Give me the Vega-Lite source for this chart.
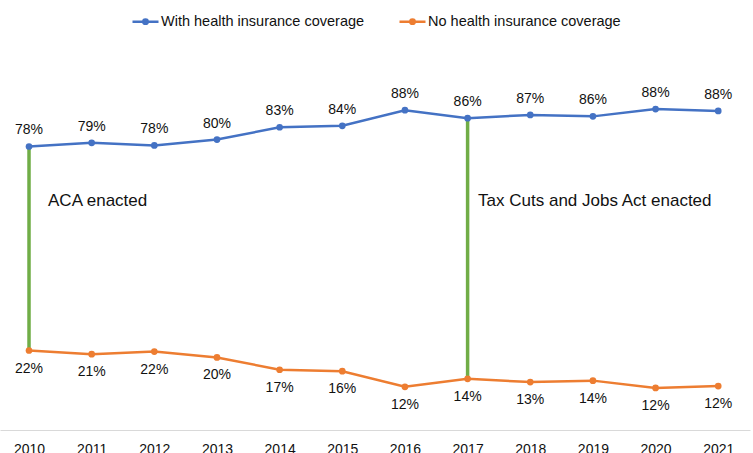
{
  "$schema": "https://vega.github.io/schema/vega-lite/v6.json",
  "width": 750,
  "height": 363,
  "autosize": "none",
  "padding": {"left": 0, "top": 67, "right": 3, "bottom": 23},
  "background": "white",
  "config": {
    "view": {"stroke": null},
    "font": "Liberation Sans",
    "text": {"font": "Liberation Sans", "fontSize": 14, "color": "#111111"}
  },
  "datasets": {
    "coverage": [
      {"year": 2010, "series": "With health insurance coverage", "value": 0.781},
      {"year": 2011, "series": "With health insurance coverage", "value": 0.791},
      {"year": 2012, "series": "With health insurance coverage", "value": 0.784},
      {"year": 2013, "series": "With health insurance coverage", "value": 0.800},
      {"year": 2014, "series": "With health insurance coverage", "value": 0.834},
      {"year": 2015, "series": "With health insurance coverage", "value": 0.838},
      {"year": 2016, "series": "With health insurance coverage", "value": 0.881},
      {"year": 2017, "series": "With health insurance coverage", "value": 0.859},
      {"year": 2018, "series": "With health insurance coverage", "value": 0.868},
      {"year": 2019, "series": "With health insurance coverage", "value": 0.864},
      {"year": 2020, "series": "With health insurance coverage", "value": 0.884},
      {"year": 2021, "series": "With health insurance coverage", "value": 0.879},
      {"year": 2010, "series": "No health insurance coverage", "value": 0.219},
      {"year": 2011, "series": "No health insurance coverage", "value": 0.209},
      {"year": 2012, "series": "No health insurance coverage", "value": 0.216},
      {"year": 2013, "series": "No health insurance coverage", "value": 0.200},
      {"year": 2014, "series": "No health insurance coverage", "value": 0.166},
      {"year": 2015, "series": "No health insurance coverage", "value": 0.162},
      {"year": 2016, "series": "No health insurance coverage", "value": 0.119},
      {"year": 2017, "series": "No health insurance coverage", "value": 0.141},
      {"year": 2018, "series": "No health insurance coverage", "value": 0.132},
      {"year": 2019, "series": "No health insurance coverage", "value": 0.136},
      {"year": 2020, "series": "No health insurance coverage", "value": 0.116},
      {"year": 2021, "series": "No health insurance coverage", "value": 0.121}
    ],
    "events": [
      {"year": 2010, "label": "ACA enacted"},
      {"year": 2017, "label": "Tax Cuts and Jobs Act enacted"}
    ]
  },
  "encoding": {
    "x": {
      "field": "year",
      "type": "quantitative",
      "scale": {"domain": [2009.537, 2021.507], "nice": false, "zero": false},
      "axis": {
        "title": null,
        "values": [2010, 2011, 2012, 2013, 2014, 2015, 2016, 2017, 2018, 2019, 2020, 2021],
        "format": "d",
        "grid": false,
        "ticks": false,
        "domainColor": "#d9d9d9",
        "domainWidth": 1,
        "labelFont": "Liberation Sans",
        "labelFontSize": 14,
        "labelColor": "#111111",
        "labelPadding": 12,
        "labelFlush": false,
        "labelOverlap": false
      }
    }
  },
  "layer": [
    {
      "data": {"name": "coverage"},
      "transform": [
        {"filter": {"field": "year", "oneOf": [2010, 2017]}},
        {"aggregate": [
          {"op": "max", "field": "value", "as": "hi"},
          {"op": "min", "field": "value", "as": "lo"}
        ], "groupby": ["year"]}
      ],
      "mark": {"type": "rule", "color": "#70AD47", "strokeWidth": 3.5},
      "encoding": {
        "y": {"field": "hi", "type": "quantitative", "scale": {"domain": [0, 1]}, "axis": null},
        "y2": {"field": "lo"}
      }
    },
    {
      "data": {"name": "coverage"},
      "mark": {"type": "line", "strokeWidth": 2.5, "point": {"filled": true, "size": 45}},
      "encoding": {
        "y": {"field": "value", "type": "quantitative", "scale": {"domain": [0, 1]}, "axis": null},
        "color": {
          "field": "series",
          "type": "nominal",
          "scale": {
            "domain": ["With health insurance coverage", "No health insurance coverage"],
            "range": ["#4472C4", "#ED7D31"]
          },
          "legend": {
            "title": null,
            "orient": "none",
            "legendX": 131,
            "legendY": -60,
            "direction": "horizontal",
            "labelFont": "Liberation Sans",
            "labelFontSize": 14.5,
            "labelColor": "#111111",
            "labelLimit": 0,
            "labelOffset": 1,
            "columnPadding": 29,
            "symbolType": "M-1,0H1M-0.17,0A0.17,0.17 0 1,0 0.17,0A0.17,0.17 0 1,0 -0.17,0",
            "symbolSize": 676,
            "symbolStrokeWidth": 2.5
          }
        }
      }
    },
    {
      "data": {"name": "coverage"},
      "transform": [{"filter": {"field": "series", "equal": "With health insurance coverage"}}],
      "mark": {"type": "text", "baseline": "alphabetic", "dy": -12},
      "encoding": {
        "y": {"field": "value", "type": "quantitative"},
        "text": {"field": "value", "type": "quantitative", "format": ".0%"}
      }
    },
    {
      "data": {"name": "coverage"},
      "transform": [{"filter": {"field": "series", "equal": "No health insurance coverage"}}],
      "mark": {"type": "text", "baseline": "alphabetic", "dy": 22},
      "encoding": {
        "y": {"field": "value", "type": "quantitative"},
        "text": {"field": "value", "type": "quantitative", "format": ".0%"}
      }
    },
    {
      "data": {"name": "events"},
      "transform": [{"filter": {"field": "year", "equal": 2010}}],
      "mark": {"type": "text", "align": "left", "baseline": "middle", "dx": 19, "fontSize": 17},
      "encoding": {
        "y": {"datum": 0.63},
        "text": {"field": "label"}
      }
    },
    {
      "data": {"name": "events"},
      "transform": [{"filter": {"field": "year", "equal": 2017}}],
      "mark": {"type": "text", "align": "left", "baseline": "middle", "dx": 10.5, "fontSize": 17},
      "encoding": {
        "y": {"datum": 0.63},
        "text": {"field": "label"}
      }
    }
  ]
}
